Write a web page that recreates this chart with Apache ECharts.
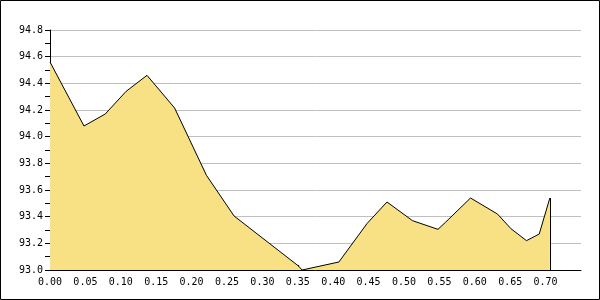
<!DOCTYPE html>
<html>
<head>
<meta charset="utf-8">
<script src="https://cdn.jsdelivr.net/npm/echarts@6/dist/echarts.min.js"></script>
<style>
html,body{margin:0;padding:0;background:#fff;}
#chart{width:600px;height:300px;}
</style>
</head>
<body>
<div id="chart"></div>
<script>
var xValues = [0, 0.048, 0.078, 0.1075, 0.137, 0.176, 0.221, 0.260, 0.351, 0.356, 0.408, 0.448, 0.476, 0.512, 0.548, 0.559, 0.594, 0.632, 0.651, 0.673, 0.691, 0.706];
var yValues = [94.56, 94.08, 94.17, 94.34, 94.46, 94.215, 93.71, 93.405, 93.03, 93.0, 93.06, 93.35, 93.51, 93.37, 93.305, 93.36, 93.54, 93.42, 93.31, 93.22, 93.27, 93.54];
var xMin = 0, xMax = 0.75, xStep = 0.05;
var yMin = 93.0, yMax = 94.8, yStep = 0.2;

var points = xValues.map(function (x, i) { return [x, yValues[i]]; });
var lastX = xValues[xValues.length - 1];
var lastY = yValues[yValues.length - 1];
var font = '"DejaVu Sans Mono", monospace';

var chart = echarts.init(document.getElementById('chart'), null, {renderer: 'canvas'});
chart.setOption({
  animation: false,
  backgroundColor: '#ffffff',
  graphic: [{
    type: 'rect',
    shape: {x: 0.5, y: 0.5, width: 599, height: 299},
    style: {fill: 'none', stroke: '#000', lineWidth: 1},
    silent: true,
    z: 100
  }],
  grid: {left: 50, top: 30, right: 19, bottom: 30, containLabel: false},
  xAxis: {
    type: 'value',
    min: xMin, max: xMax, interval: xStep,
    axisLine: {show: true, onZero: false, lineStyle: {color: '#000', width: 1}},
    axisTick: {show: true, inside: true, length: 5, lineStyle: {color: '#000'}},
    axisLabel: {
      show: true, margin: 7, color: '#000', fontFamily: font, fontSize: 10,
      showMaxLabel: false,
      formatter: function (v) { return v.toFixed(2); }
    },
    splitLine: {show: false}
  },
  yAxis: {
    type: 'value',
    min: yMin, max: yMax, interval: yStep,
    axisLine: {show: true, onZero: false, lineStyle: {color: '#000', width: 1}},
    axisTick: {show: true, inside: false, length: 5, lineStyle: {color: '#000'}},
    minorTick: {show: true, splitNumber: 2, length: 5, lineStyle: {color: '#000'}},
    axisLabel: {
      show: true, margin: 7, color: '#000', fontFamily: font, fontSize: 10,
      formatter: function (v) { return v.toFixed(1); }
    },
    splitLine: {show: true, lineStyle: {color: '#c0c0c0', width: 1}}
  },
  series: [{
    type: 'line',
    data: points,
    showSymbol: false,
    symbol: 'none',
    lineStyle: {color: '#000', width: 1},
    areaStyle: {color: '#f7e184', opacity: 1, origin: 'start'},
    markLine: {
      silent: true,
      symbol: ['none', 'none'],
      label: {show: false},
      lineStyle: {color: '#000', width: 1, type: 'solid'},
      data: [[{coord: [lastX, yMin]}, {coord: [lastX, lastY]}]]
    }
  }]
});
</script>
</body>
</html>
